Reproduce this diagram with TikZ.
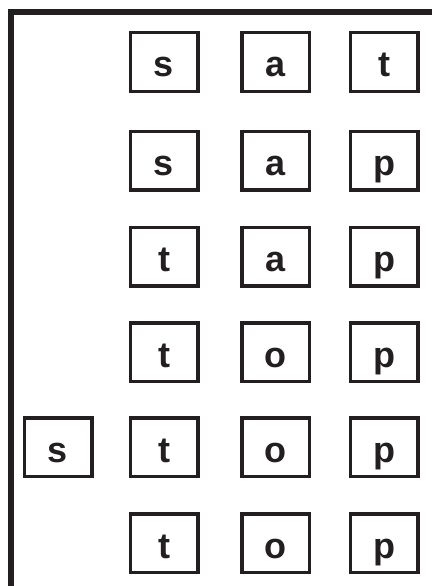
\documentclass[tikz,border=0pt]{standalone}
\usepackage{fontspec}
\setmainfont{Liberation Sans}
\usepackage{tikz}
\usetikzlibrary{positioning}

\begin{document}
\begin{tikzpicture}[
  x=1pt, y=1pt,
  letter/.style={rectangle, draw=ink, line width=3.5pt, minimum width=67.5pt, minimum height=58.5pt,
    inner sep=0pt, text height=30pt, text depth=0pt, font=\fontsize{36}{40}\selectfont\bfseries, text=ink},
  bar/.style={fill=ink, draw=none},
]
  \definecolor{ink}{HTML}{231F20}
  \useasboundingbox (0,0) rectangle (432,-586);

  % frame
  \fill[bar] (8,-9) rectangle (432,-15);
  \fill[bar] (8,-9) rectangle (14,-586);

  % rows of words
  \foreach \y/\a/\b/\c [count=\r] in {62/s/a/t, 160.5/s/a/p, 256.5/t/a/p, 352/t/o/p, 447/t/o/p, 543/t/o/p} {
    \node[letter] (c1r\r) at (164,-\y) {\a};
    \node[letter] (c2r\r) at (275.5,-\y) {\b};
    \node[letter] (c3r\r) at (384,-\y) {\c};
  }

  % extra letter
  \node[letter, left=35pt of c1r5] (c0r5) {s};
\end{tikzpicture}
\end{document}
